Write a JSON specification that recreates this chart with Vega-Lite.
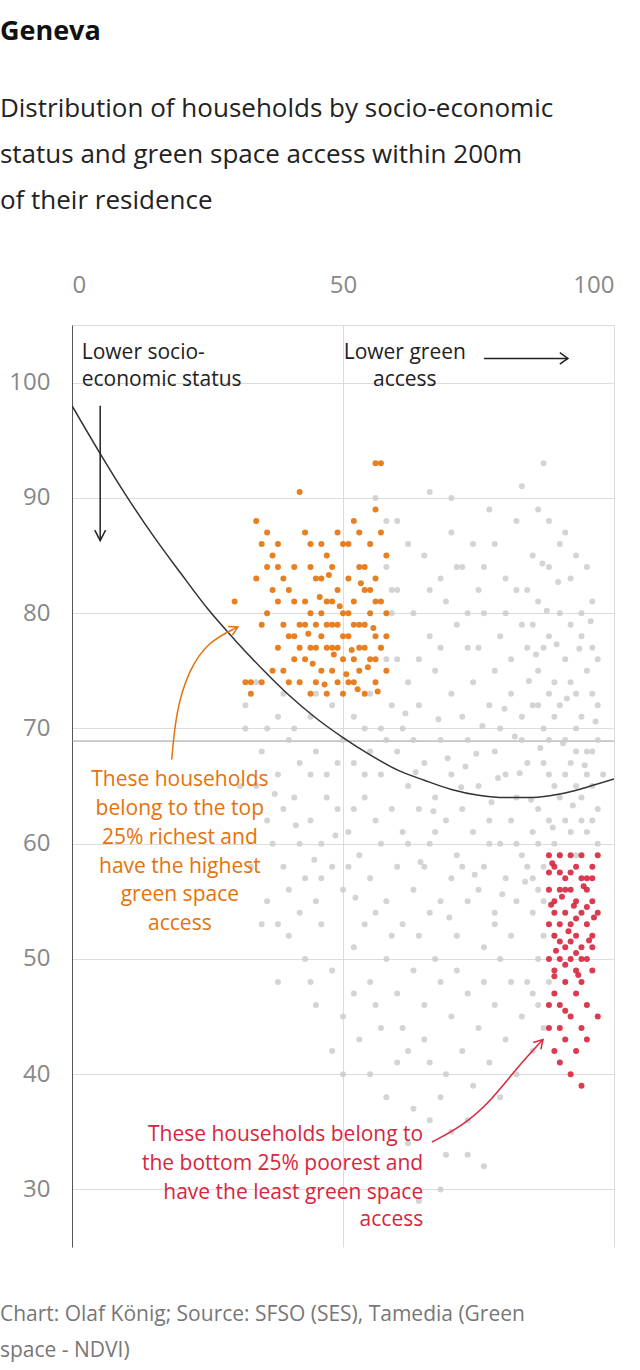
{
  "$schema": "https://vega.github.io/schema/vega-lite/v6.json",
  "width": 542,
  "height": 922,
  "autosize": "none",
  "padding": {"left": 72, "top": 325, "right": 26, "bottom": 123},
  "background": "white",
  "title": {
    "text": "Geneva",
    "subtitle": ["Distribution of households by socio-economic", "status and green space access within 200m", "of their residence"],
    "anchor": "start",
    "frame": "bounds",
    "offset": 58,
    "font": "Open Sans",
    "fontSize": 27,
    "fontWeight": "bold",
    "color": "#111",
    "subtitleFont": "Open Sans",
    "subtitleFontSize": 26,
    "subtitleColor": "#222",
    "subtitleLineHeight": 46,
    "subtitlePadding": 50
  },
  "config": {
    "view": {"stroke": null},
    "axis": {"labelFont": "Open Sans", "labelFontSize": 24, "labelColor": "#888", "ticks": false, "gridColor": "#dcdcdc", "title": null}
  },
  "datasets": {
    "grey": [
      [60,88],[62,86],[58,84],[65,85],[68,83],[70,87],[72,84],[75,82],[78,86],[80,83],[82,88],[85,85],[87,93],[88,84],[86,81],[90,80],[92,83],[94,78],[96,81],[97,76],[63,80],[66,78],[69,81],[71,79],[73,77],[76,80],[79,78],[81,76],[83,79],[84,77],[86,75],[88,78],[89,74],[91,76],[93,73],[95,75],[97,72],[60,76],[62,74],[64,72],[67,75],[70,73],[72,71],[74,74],[77,72],[79,70],[81,73],[83,71],[85,72],[87,70],[89,71],[91,69],[93,70],[95,68],[97,69],[59,72],[61,70],[56,90],[66,90.5],[70,90],[77,89],[83,91],[91,87],[93,85],[95,84],[59,80],[57,77],[60,82],[74,86],[76,84],[84,82],[88,88],[90,86],[86,89],[78,75],[80,80],[82,82],[92,79],[94,80],[96,77],[85,79],[87,77],[75,77],[68,77],[64,76],[66,82],[71,84],[73,80],
      [40,69],[42,67],[45,68],[47,66],[50,69],[52,67],[55,68],[57,66],[60,68],[62,65],[65,67],[67,64],[70,66],[72,63],[75,65],[77,62],[80,66],[82,64],[84,67],[86,63],[88,66],[90,64],[92,67],[94,62],[96,65],[98,66],[32,70],[35,68],[38,66],[41,64],[44,62],[46,60],[49,63],[51,61],[54,64],[56,62],[59,63],[61,61],[64,63],[66,60],[69,62],[71,59],[74,61],[76,58],[79,60],[81,62],[83,59],[85,61],[87,58],[89,60],[91,62],[93,59],[95,61],[97,60],[36,62],[39,58],[43,57],[45,55],[48,58],[50,56],[53,59],[55,57],[58,55],[60,58],[63,56],[65,58],[68,55],[70,57],[73,55],[75,56],[78,54],[80,57],[82,55],[84,58],[86,56],[34,65],[37,60],[40,56],[42,60],[47,64],[52,63],[57,60],[62,60],[67,61],[72,58],[77,60],[82,60],[44,66],[49,67],[54,66],[58,69],[63,69],[68,69],[73,69],[78,68],[83,69],[88,69],[93,65],[96,68],[31,65],[33,58],[39,63],[46,57],[51,58],[56,54],[61,53],[66,54],[71,52],[76,51],[81,52],[85,54],[36,55],[38,53],
      [40,52],[43,50],[46,53],[48,49],[52,51],[55,48],[58,50],[60,47],[63,49],[65,46],[68,48],[70,45],[73,47],[75,44],[78,46],[80,43],[83,45],[85,42],[45,46],[50,45],[53,43],[57,44],[62,42],[66,41],[69,40],[72,42],[74,39],[77,41],[79,38],[82,40],[48,42],[55,40],[58,38],[63,37],[66,36],[70,35],[73,33],[76,32],[68,38],[61,44],[56,46],[42,54],[44,48],[64,52],[67,50],[71,49],[76,48],[79,50],[84,48],[86,46],[60,41],[65,43],[52,47],[38,48],[35,53],[69,33],[68,30],[64,29],[62,34],[73,36],[50,40],[54,53],[59,52],[78,53],[81,48],[87,44],
      [32,72],[34,74],[36,70],[38,71],[41,70],[44,71],[48,72],[52,71],[55,73],[57,70],[45,73],[39,73],[58,76],[59,82],[58,88],[54,70],
      [86,72],[88,73],[90,72],[92,74],[94,71],[96,73],[87,67],[89,65],[91,66],[93,68],[95,66],[97,63],[86,60],[88,62],[90,59],[92,61],[94,64],[96,62],[85,57],[87,55],[89,52],[86,50],[85,47],[88,48],[87,52],
      [61.5,71.3],[63.4,66.2],[66.7,62.8],[69.3,67.4],[71.8,64.9],[74.6,67.8],[77.4,63.6],[79.8,71.7],[82.6,66.1],[84.7,63.8],[86.4,68.3],[88.7,61.4],[90.6,68.7],[92.4,63.3],[94.6,66.8],[96.6,70.6],[85.6,76.4],[87.6,80.2],[89.4,77.3],[91.3,72.6],[93.6,76.9],[95.7,79.3],[86.8,84.3],[89.7,82.7],[84.3,74.1],[81.7,69.3],[78.6,65.7],[75.7,70.2],[72.6,66.7],[67.6,70.8],[64.3,58.4],[69.6,53.6],[74.3,57.3],[79.4,55.6],[83.6,56.7],[52.3,55.3],[48.6,60.7],[44.7,58.6],[41.3,61.6],[37.4,64.3]
    ],
    "orange": [
      [30,81],[32,74],[33,74],[34,88],[35,86],[36,87],[37,85],[38,84],[38,81],[39,79],[40,82],[41,76],[41,84],[42,79],[42,74],[43,87],[43,81],[44,77],[44,73],[45,83],[45,79],[46,75],[46,86],[47,81],[47,77],[47,73],[48,84],[48,79],[48,75],[49,82],[49,77],[49,74],[50,86],[50,80],[50,76],[51,83],[51,78],[51,74],[52,88],[52,81],[52,76],[53,84],[53,79],[53,75],[54,82],[54,77],[54,73],[55,86],[55,80],[55,76],[56,89],[56,83],[56,78],[56,74],[57,81],[57,77],[57,87],[58,80],[58,75],[58,85],[57,93],[56,93],[42,90.5],[44,84],[46,80],[40,78],[39,75],[43,76],[45,74],[47,85],[49,87],[51,86],[53,87],[55,82],[38,77],[36,80],[37,82],[41,81],[44,80],[46,83],[48,77],[50,73],[52,74],[54,79],[56,76],[58,78],[34,83],[35,79],[40,74],[42,77],[44,86],[46,78],[48,81],[50,78],[52,79],[54,84],[56,81],[53,77],[51,80],[49,79],[47,79],[45,77],[43,79],[41,78],[39,83],[37,75],[35,74],[33,73],[36,84],[38,86],
      [44.4,75.6],[46.6,73.8],[48.3,76.4],[50.6,74.7],[52.7,73.4],[54.6,75.3],[56.4,73.2],[45.7,81.4],[49.4,80.6],[53.3,82.6],[47.4,83.3],[51.6,76.8],[43.6,78.2],[55.6,78.7]
    ],
    "red": [
      [88,59],[89,58],[90,59],[91,57],[92,59],[93,58],[94,59],[95,57],[96,58],[88,56],[89,55],[90,56],[91,54],[92,56],[93,55],[94,54],[95,56],[96,55],[88,53],[89,52],[90,53],[91,51],[92,53],[93,52],[94,51],[95,53],[96,52],[88,50],[89,49],[90,50],[91,48],[92,50],[93,49],[94,48],[95,50],[96,49],[89,47],[90,46],[92,45],[93,47],[94,44],[95,46],[91,43],[93,42],[90,44],[95,43],[92,40],[94,39],[89,42],[88,46],[97,45],[96,51],[97,54],[96,57],[97,59],[88,57.5],[90,57.5],[92,57.5],[94,57],[89,54],[91,56],[93,53.5],[95,54.5],[90,51.5],[92,51.5],[94,50],[89,48.5],[91,49.5],[93,50.5],[88,44],[90,41],[91,45.5],
      [88.6,58.3],[90.4,55.4],[92.6,54.6],[94.4,56.3],[96.3,53.6],[89.3,50.7],[91.6,52.4],[93.4,48.6],[95.4,51.6],[88.4,54.7]
    ],
    "fit": [
      {"x":0,"y":98.0},{"x":5,"y":94.0},{"x":10,"y":90.2},{"x":15,"y":86.7},{"x":20,"y":83.5},{"x":25,"y":80.4},{"x":30,"y":77.7},{"x":35,"y":75.2},{"x":40,"y":72.9},{"x":45,"y":70.9},{"x":50,"y":69.2},{"x":55,"y":67.7},{"x":60,"y":66.4},{"x":65,"y":65.5},{"x":70,"y":64.7},{"x":75,"y":64.2},{"x":80,"y":64.0},{"x":85,"y":64.0},{"x":90,"y":64.3},{"x":95,"y":64.9},{"x":100,"y":65.6}
    ],
    "curves": [
      {"id":"o1","k":"orange","o":1,"x":18.4,"y":67.3},{"id":"o1","k":"orange","o":2,"x":19.2,"y":71.5},{"id":"o1","k":"orange","o":3,"x":21.5,"y":75},{"id":"o1","k":"orange","o":4,"x":25,"y":77.5},{"id":"o1","k":"orange","o":5,"x":30.6,"y":78.8},
      {"id":"r1","k":"red","o":1,"x":66.4,"y":34.1},{"id":"r1","k":"red","o":2,"x":72,"y":35.5},{"id":"r1","k":"red","o":3,"x":77,"y":37.5},{"id":"r1","k":"red","o":4,"x":82,"y":40.5},{"id":"r1","k":"red","o":5,"x":86.9,"y":43}
    ],
    "arrows": [
      {"id":"o2","k":"orange","o":1,"x":29.6,"y":78.1},{"id":"o2","k":"orange","o":2,"x":30.6,"y":78.8},{"id":"o2","k":"orange","o":3,"x":28.8,"y":78.85},
      {"id":"r2","k":"red","o":1,"x":85.1,"y":42.74},{"id":"r2","k":"red","o":2,"x":86.9,"y":43},{"id":"r2","k":"red","o":3,"x":86.5,"y":42.15},
      {"id":"b1","k":"black","o":1,"x":5.2,"y":98},{"id":"b1","k":"black","o":2,"x":5.2,"y":86.3},
      {"id":"b2","k":"black","o":1,"x":4.2,"y":87.2},{"id":"b2","k":"black","o":2,"x":5.2,"y":86.3},{"id":"b2","k":"black","o":3,"x":6.2,"y":87.2},
      {"id":"b3","k":"black","o":1,"x":76,"y":102.1},{"id":"b3","k":"black","o":2,"x":91.5,"y":102.1},
      {"id":"b4","k":"black","o":1,"x":90,"y":102.6},{"id":"b4","k":"black","o":2,"x":91.5,"y":102.1},{"id":"b4","k":"black","o":3,"x":90,"y":101.6}
    ],
    "labels": [
      {"t":"Lower socio-","k":"black","a":"left","x":1.8,"y":102.6},
      {"t":"economic status","k":"black","a":"left","x":1.8,"y":100.2},
      {"t":"Lower green","k":"black","a":"center","x":61.4,"y":102.6},
      {"t":"access","k":"black","a":"center","x":61.4,"y":100.2},
      {"t":"These households","k":"orange","a":"center","x":19.9,"y":65.5},
      {"t":"belong to the top","k":"orange","a":"center","x":19.9,"y":63.0},
      {"t":"25% richest and","k":"orange","a":"center","x":19.9,"y":60.5},
      {"t":"have the highest","k":"orange","a":"center","x":19.9,"y":58.0},
      {"t":"green space","k":"orange","a":"center","x":19.9,"y":55.5},
      {"t":"access","k":"orange","a":"center","x":19.9,"y":53.0},
      {"t":"These households belong to","k":"red","a":"right","x":64.8,"y":34.7},
      {"t":"the bottom 25% poorest and","k":"red","a":"right","x":64.8,"y":32.2},
      {"t":"have the least green space","k":"red","a":"right","x":64.8,"y":29.7},
      {"t":"access","k":"red","a":"right","x":64.8,"y":27.3},
      {"t":"Chart: Olaf König; Source: SFSO (SES), Tamedia (Green","k":"foot","a":"left","x":-13.3,"y":19.1},
      {"t":"space - NDVI)","k":"foot","a":"left","x":-13.3,"y":16.0}
    ]
  },
  "layer": [
    {
      "data": {"values": [{"y": 68.9}]},
      "mark": {"type": "rule", "color": "#999", "strokeWidth": 1},
      "encoding": {
        "y": {"field": "y", "type": "quantitative", "scale": {"domain": [25, 105], "nice": false, "zero": false},
          "axis": {"values": [30,40,50,60,70,80,90,100], "domainColor": "#555", "labelPadding": 22}}
      }
    },
    {
      "data": {"name": "grey"},
      "mark": {"type": "circle", "size": 36, "color": "#cccccc", "opacity": 0.85},
      "encoding": {
        "x": {"field": "0", "type": "quantitative", "scale": {"domain": [0, 100], "nice": false},
          "axis": {"orient": "top", "values": [0, 50, 100], "domainColor": "#dcdcdc", "labelPadding": 28}},
        "y": {"field": "1", "type": "quantitative"}
      }
    },
    {
      "data": {"name": "orange"},
      "mark": {"type": "circle", "size": 36, "color": "#e5720a", "opacity": 0.9},
      "encoding": {"x": {"field": "0", "type": "quantitative"}, "y": {"field": "1", "type": "quantitative"}}
    },
    {
      "data": {"name": "red"},
      "mark": {"type": "circle", "size": 36, "color": "#d7263d", "opacity": 0.9},
      "encoding": {"x": {"field": "0", "type": "quantitative"}, "y": {"field": "1", "type": "quantitative"}}
    },
    {
      "data": {"name": "fit"},
      "mark": {"type": "line", "color": "#333", "strokeWidth": 1.5, "clip": true, "interpolate": "monotone"},
      "encoding": {"x": {"field": "x", "type": "quantitative"}, "y": {"field": "y", "type": "quantitative"}}
    },
    {
      "data": {"name": "curves"},
      "mark": {"type": "line", "strokeWidth": 1.5, "interpolate": "basis"},
      "encoding": {
        "x": {"field": "x", "type": "quantitative"},
        "y": {"field": "y", "type": "quantitative"},
        "detail": {"field": "id"},
        "order": {"field": "o"},
        "color": {"field": "k", "type": "nominal", "legend": null,
          "scale": {"domain": ["black", "orange", "red", "foot"], "range": ["#222", "#e5720a", "#d7263d", "#777"]}}
      }
    },
    {
      "data": {"name": "arrows"},
      "mark": {"type": "line", "strokeWidth": 1.5},
      "encoding": {
        "x": {"field": "x", "type": "quantitative"},
        "y": {"field": "y", "type": "quantitative"},
        "detail": {"field": "id"},
        "order": {"field": "o"},
        "color": {"field": "k", "type": "nominal", "legend": null}
      }
    },
    {
      "data": {"name": "labels"},
      "transform": [{"filter": "datum.a == 'left'"}],
      "mark": {"type": "text", "align": "left", "baseline": "middle", "font": "Open Sans", "fontSize": 21},
      "encoding": {
        "x": {"field": "x", "type": "quantitative"}, "y": {"field": "y", "type": "quantitative"},
        "text": {"field": "t"}, "color": {"field": "k", "type": "nominal", "legend": null}
      }
    },
    {
      "data": {"name": "labels"},
      "transform": [{"filter": "datum.a == 'center'"}],
      "mark": {"type": "text", "align": "center", "baseline": "middle", "font": "Open Sans", "fontSize": 21},
      "encoding": {
        "x": {"field": "x", "type": "quantitative"}, "y": {"field": "y", "type": "quantitative"},
        "text": {"field": "t"}, "color": {"field": "k", "type": "nominal", "legend": null}
      }
    },
    {
      "data": {"name": "labels"},
      "transform": [{"filter": "datum.a == 'right'"}],
      "mark": {"type": "text", "align": "right", "baseline": "middle", "font": "Open Sans", "fontSize": 21},
      "encoding": {
        "x": {"field": "x", "type": "quantitative"}, "y": {"field": "y", "type": "quantitative"},
        "text": {"field": "t"}, "color": {"field": "k", "type": "nominal", "legend": null}
      }
    }
  ]
}
